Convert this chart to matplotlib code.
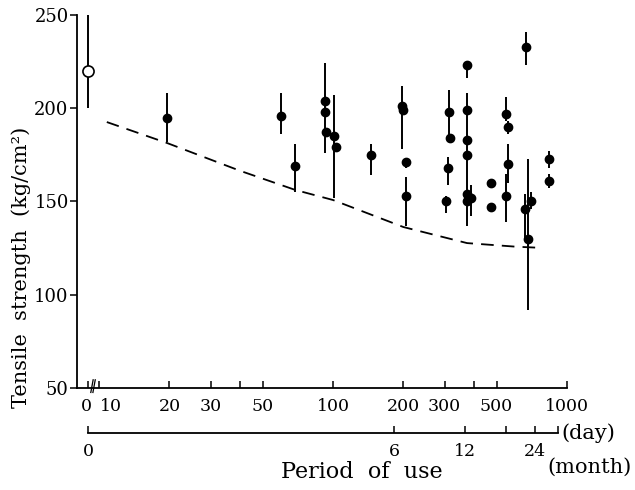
import numpy as np
import matplotlib.pyplot as plt
from matplotlib import transforms

plt.rcParams['font.family'] = ['DejaVu Serif']

# period of use (days) -- 0 means new (unused) sample
days = [19.5, 60, 69, 92, 92, 93, 101, 103, 145, 198, 199, 205, 205,
        314, 316, 311, 304, 372, 372, 374, 372, 375, 372, 387, 473, 473,
        547, 561, 558, 548, 665, 662, 700, 680, 838, 835]
strength = [195, 196, 169, 204, 198, 187, 185, 179, 175, 201, 199, 171, 153,
            198, 184, 168, 150, 223, 199, 183, 175, 154, 150, 152, 160, 147,
            197, 190, 170, 153, 233, 146, 150, 130, 173, 161]
err_low = [182, 186, 155, 176, 198, 187, 152, 179, 164, 178, 199, 168, 137,
           183, 182, 159, 144, 216, 137, 183, 175, 154, 150, 142, 160, 147,
           193, 186, 160, 139, 223, 130, 146, 92, 168, 157]
err_high = [208, 208, 181, 224, 198, 187, 207, 179, 181, 212, 199, 173, 163,
            210, 186, 174, 153, 225, 208, 183, 175, 154, 150, 159, 160, 147,
            206, 193, 181, 165, 241, 154, 155, 173, 177, 165]

# unused sample
new_strength = 220
new_low, new_high = 200, 250

# dashed trend curve
curve_days = [10.8, 19.5, 40, 69, 100, 200, 374, 600, 790]
curve_vals = [192.6, 181.4, 166.5, 156.2, 150.8, 136.3, 127.7, 125.8, 125.1]

day_ticks = [10, 20, 30, 40, 50, 100, 200, 300, 400, 500, 1000]
day_labels = ['10', '20', '30', '', '50', '100', '200', '300', '', '500', '1000']
month_ticks = [6, 12, 18, 24, 30]
month_labels = ['6', '12', '', '24', '']

ZERO = 0.955  # where "0 days" sits on the broken log axis


def xpos(d):
    d = np.asarray(d, dtype=float)
    return np.where(d > 0, np.log10(np.maximum(d, 1e-9)), ZERO)


fig = plt.figure(figsize=(6.35, 4.9), dpi=100)
ax = fig.add_axes([77/635, 102/490, 490/635, 373/490])

s = np.array(strength)
yerr = [s - np.array(err_low), np.array(err_high) - s]
ax.errorbar(xpos(days), s, yerr=yerr, fmt='o', color='black', ms=6,
            elinewidth=1.4, capsize=0, clip_on=False)
ax.errorbar(xpos([0]), [new_strength],
            yerr=[[new_strength - new_low], [new_high - new_strength]],
            fmt='o', mfc='white', mec='black', mew=1.2, ms=8, color='black',
            elinewidth=1.4, capsize=0, clip_on=False, zorder=3)
ax.plot(xpos(curve_days), curve_vals, color='black', lw=1.3,
        dashes=(7, 4.5))

ax.set_xlim(0.906, 3.0)
ax.set_ylim(50, 250)
for sp in ['top', 'right']:
    ax.spines[sp].set_visible(False)
ax.spines['left'].set_linewidth(1.3)
ax.spines['bottom'].set_linewidth(1.3)

ax.set_yticks([50, 100, 150, 200, 250])
ax.tick_params(axis='y', direction='out', length=5, width=1.1, labelsize=13, pad=1)

ax.set_xticks(list(xpos([0])) + list(np.log10(day_ticks)))
ax.set_xticklabels(['0'] + day_labels)
ax.tick_params(axis='x', direction='in', length=5, width=1.1, labelsize=12.5, pad=7)
labs = ax.get_xticklabels()
labs[0].set_transform(labs[0].get_transform() +
                      transforms.ScaledTranslation(-2/100, 0, fig.dpi_scale_trans))
labs[1].set_transform(labs[1].get_transform() +
                      transforms.ScaledTranslation(12/100, 0, fig.dpi_scale_trans))

# axis break mark
brk = transforms.blended_transform_factory(ax.transData, ax.transAxes)
for dx in (0.0, 0.009):
    ax.plot([0.965 + dx, 0.975 + dx], [-0.012, 0.022], color='black', lw=0.9,
            transform=brk, clip_on=False)

ax.set_ylabel('Tensile  strength  (kg/cm²)', fontsize=15)
ax.yaxis.set_label_coords(-0.094, 0.324)

# month axis
ax2 = fig.add_axes([77/635, 57/490, 490/635, 0.001])
ax2.set_xlim(ax.get_xlim())
ax2.set_ylim(0, 1)
for sp in ['top', 'right', 'left']:
    ax2.spines[sp].set_visible(False)
ax2.spines['bottom'].set_linewidth(1.3)
ax2.spines['bottom'].set_bounds(ZERO, np.log10(30 * 30.4))
ax2.set_yticks([])
ax2.set_xticks(list(xpos([0])) + list(np.log10(np.array(month_ticks) * 30.4)))
ax2.set_xticklabels(['0'] + month_labels)
ax2.tick_params(axis='x', direction='in', length=5, width=1.1, labelsize=12.5, pad=7)
ax2.patch.set_visible(False)

fig.text(561/635, 1 - 433/490, '(day)', fontsize=15, va='center', ha='left')
fig.text(547/635, 1 - 467/490, '(month)', fontsize=15, va='center', ha='left')
fig.text(362/635, 1 - 472/490, 'Period  of  use', fontsize=16, va='center', ha='center')

fig.savefig('out.png', dpi=100)
